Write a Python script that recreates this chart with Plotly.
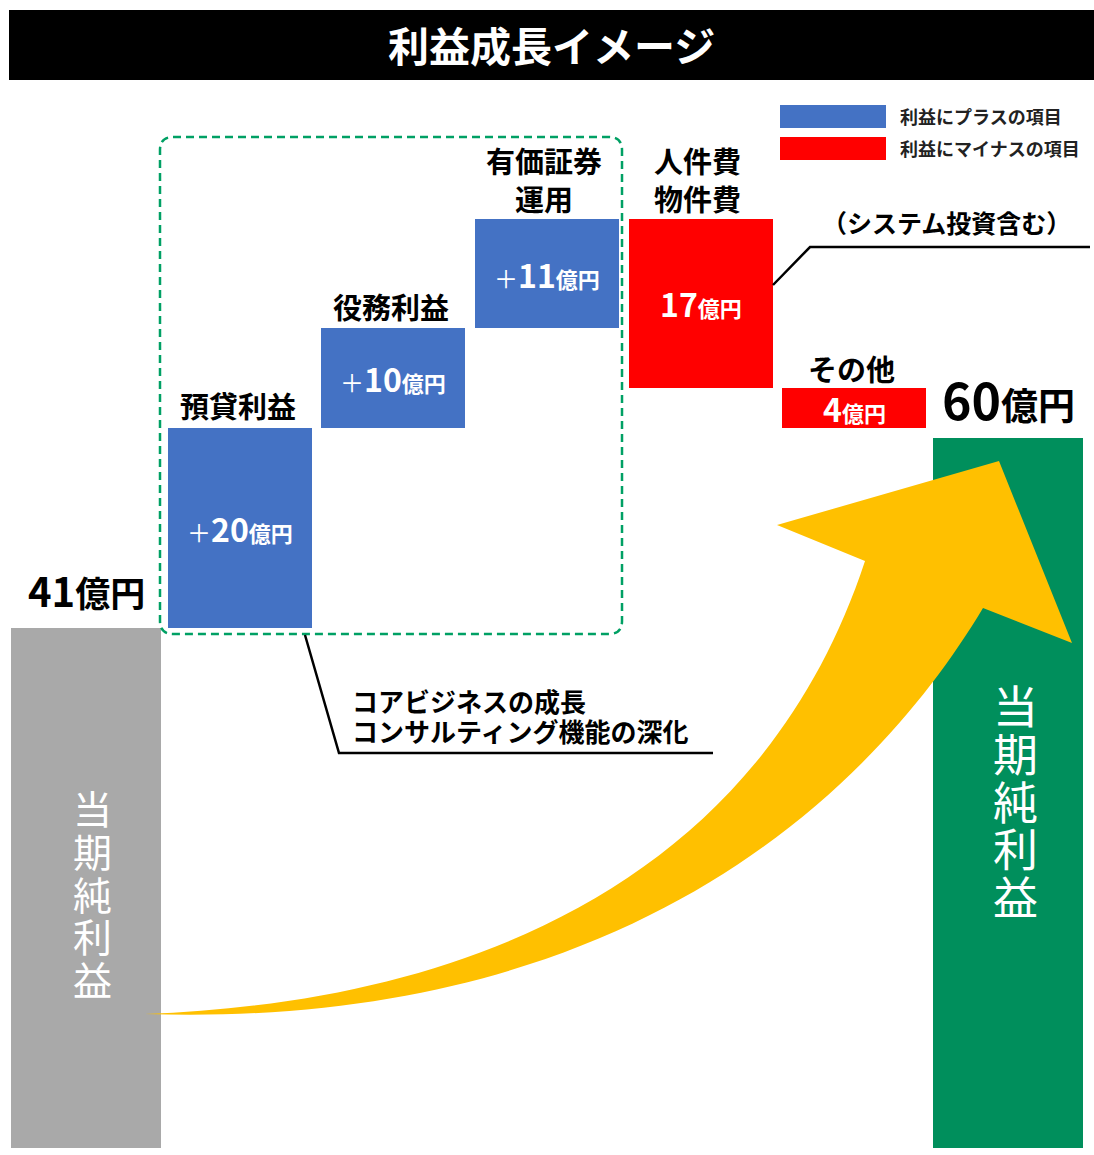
import plotly.graph_objects as go

W, H = 1094, 1155
PLOT_BOTTOM = 1148  # plot area spans 0..1148 px vertically

# ---------------- data ----------------
title_text = "利益成長イメージ"
start_value = 41
item_names = ["預貸利益", "役務利益", "有価証券<br>運用", "人件費<br>物件費", "その他"]
item_values = [20, 10, 11, -17, -4]
end_value = 60
unit = "億円"
total_name = "当期純利益"
legend_labels = ["利益にプラスの項目", "利益にマイナスの項目"]
core_note_lines = ["コアビジネスの成長", "コンサルティング機能の深化"]
cost_note = "（システム投資含む）"

# ---------------- style ----------------
FONT = "Noto Sans CJK JP, Noto Sans, sans-serif"
C_START = "#A9A9A9"
C_POS = "#4472C4"
C_NEG = "#FF0000"
C_END = "#008F5C"
C_ARROW = "#FFC000"
C_DASH = "#00A064"

# axis mapping (schematic, broken axis)
X_STEP = 153.67
X0_PX = 86
Y_ZERO_PX = 1037
Y_PX_PER = 9.98
x_range = [-X0_PX / X_STEP, (W - X0_PX) / X_STEP]
y_range = [(Y_ZERO_PX - PLOT_BOTTOM) / Y_PX_PER, Y_ZERO_PX / Y_PX_PER]
Y_MIN = y_range[0]


def px(x):
    return x / W


def py(y):
    return (PLOT_BOTTOM - y) / PLOT_BOTTOM


# ---------------- bars ----------------
n = len(item_values) + 2
xs = list(range(n))
bases, heights, colors, tops, mids = [], [], [], [], []
bases.append(Y_MIN)
heights.append(start_value - Y_MIN)
colors.append(C_START)
tops.append(start_value)
mids.append(None)
cum = start_value
for v in item_values:
    new = cum + v
    lo, hi = min(cum, new), max(cum, new)
    bases.append(lo)
    heights.append(hi - lo)
    colors.append(C_POS if v > 0 else C_NEG)
    tops.append(hi)
    mids.append((lo + hi) / 2)
    cum = new
bases.append(Y_MIN)
heights.append(end_value - Y_MIN)
colors.append(C_END)
tops.append(end_value)
mids.append(None)

widths = [0.976] + [0.937] * len(item_values) + [0.976]

fig = go.Figure()
fig.add_trace(go.Bar(
    x=xs, y=heights, base=bases, width=widths,
    marker=dict(color=colors, line=dict(width=0)),
    hoverinfo="skip", showlegend=False,
))

annotations = []

# labels above bars
above_gap = [38, 23, 22, 40, 40, 20, 40]
above_text = [
    f"<b><span style='font-size:40px'>{start_value}</span><span style='font-size:35px'>{unit}</span></b>"
] + [f"<b>{t}</b>" for t in item_names] + [
    f"<b><span style='font-size:50px'>{end_value}</span><span style='font-size:37px'>{unit}</span></b>"
]
above_dx = [0, -2, -2, -3, -3, -3, 0]
for i in range(n):
    annotations.append(dict(
        x=i, y=tops[i], xref="x", yref="y", text=above_text[i],
        showarrow=False, xanchor="center", yanchor="middle",
        yshift=above_gap[i], xshift=above_dx[i],
        font=dict(family=FONT, size=29, color="black"),
    ))

# values inside bars
for k, v in enumerate(item_values):
    i = k + 1
    if v > 0:
        t = (f"<span style='font-size:24px'>＋</span><b><span style='font-size:32px'>{v}</span>"
             f"<span style='font-size:22px'>{unit}</span></b>")
    else:
        t = (f"<b><span style='font-size:32px'>{abs(v)}</span>"
             f"<span style='font-size:22px'>{unit}</span></b>")
    annotations.append(dict(
        x=i, y=mids[i], xref="x", yref="y", text=t, showarrow=False,
        xanchor="center", yanchor="middle",
        font=dict(family=FONT, size=28, color="white"),
    ))

# vertical titles in start / end bars (one text each, line pitch set by base font size)
def vertical(text, size):
    return "<br>".join(f"<span style='font-size:{size}px'>{ch}</span>" for ch in text)


annotations.append(dict(
    x=px(92), y=py(892), xref="paper", yref="paper", text=vertical(total_name, 39),
    showarrow=False, xanchor="center", yanchor="middle",
    font=dict(family=FONT, size=42.75 / 1.3, color="white"),
))
annotations.append(dict(
    x=px(1015), y=py(800), xref="paper", yref="paper", text=vertical(total_name, 45),
    showarrow=False, xanchor="center", yanchor="middle",
    font=dict(family=FONT, size=47.75 / 1.3, color="white"),
))

# title
annotations.append(dict(
    x=px(551), y=py(44), xref="paper", yref="paper", text=f"<b>{title_text}</b>",
    showarrow=False, xanchor="center", yanchor="middle",
    font=dict(family=FONT, size=41, color="white"),
))

# legend texts
for k, lab in enumerate(legend_labels):
    annotations.append(dict(
        x=px(898), y=py(116 + k * 32), xref="paper", yref="paper", text=f"<b>{lab}</b>",
        showarrow=False, xanchor="left", yanchor="middle",
        font=dict(family=FONT, size=18, color="#222222"),
    ))

# notes
for k, line in enumerate(core_note_lines):
    annotations.append(dict(
        x=px(350), y=py(700 + k * 30), xref="paper", yref="paper", text=f"<b>{line}</b>",
        showarrow=False, xanchor="left", yanchor="middle",
        font=dict(family=FONT, size=26, color="black"),
    ))
annotations.append(dict(
    x=px(946), y=py(222), xref="paper", yref="paper", text=f"<b>{cost_note}</b>",
    showarrow=False, xanchor="center", yanchor="middle",
    font=dict(family=FONT, size=25, color="black"),
))

# ---------------- shapes ----------------
shapes = []
# title bar
shapes.append(dict(type="rect", xref="paper", yref="paper",
                   x0=px(9), x1=px(1094), y0=py(80), y1=py(10),
                   fillcolor="black", line=dict(width=0), layer="above"))
# legend swatches
for k, c in enumerate([C_POS, C_NEG]):
    shapes.append(dict(type="rect", xref="paper", yref="paper",
                       x0=px(780), x1=px(886), y0=py(128 + k * 32), y1=py(105 + k * 32),
                       fillcolor=c, line=dict(width=0), layer="above"))


def P(x, y):
    return f"{px(x):.5f},{py(y):.5f}"


# dashed rounded rectangle around core business bars
L_, T_, R_, B_, r = 160, 137, 622, 634, 13
dpath = (f"M {P(L_ + r, T_)} L {P(R_ - r, T_)} Q {P(R_, T_)} {P(R_, T_ + r)} "
         f"L {P(R_, B_ - r)} Q {P(R_, B_)} {P(R_ - r, B_)} "
         f"L {P(L_ + r, B_)} Q {P(L_, B_)} {P(L_, B_ - r)} "
         f"L {P(L_, T_ + r)} Q {P(L_, T_)} {P(L_ + r, T_)} Z")
shapes.append(dict(type="path", xref="paper", yref="paper", path=dpath,
                   line=dict(color=C_DASH, width=2.5, dash="8px,5px"),
                   fillcolor="rgba(0,0,0,0)", layer="above"))

# callout lines
shapes.append(dict(type="path", xref="paper", yref="paper",
                   path=f"M {P(305, 635)} L {P(339, 753)} L {P(713, 753)}",
                   line=dict(color="black", width=2.5), layer="above"))
shapes.append(dict(type="path", xref="paper", yref="paper",
                   path=f"M {P(773, 285)} L {P(810, 247)} L {P(1090, 247)}",
                   line=dict(color="black", width=2.5), layer="above"))

# growth arrow (two smooth edges joined by an arrow head)
tail = (145, 1014)
notch_l, wing_l, tip, wing_r, notch_r = (865, 561), (777, 525), (999, 461), (1072, 643), (983, 608)
apath = (f"M {P(*tail)} C {P(470, 1002)} {P(760, 880)} {P(*notch_l)} "
         f"L {P(*wing_l)} L {P(*tip)} L {P(*wing_r)} L {P(*notch_r)} "
         f"C {P(880, 780)} {P(640, 1030)} {P(*tail)} Z")
shapes.append(dict(type="path", xref="paper", yref="paper", path=apath,
                   fillcolor=C_ARROW, line=dict(width=0), layer="above"))

fig.update_layout(
    width=W, height=H,
    margin=dict(l=0, r=0, t=0, b=H - PLOT_BOTTOM, pad=0),
    paper_bgcolor="white", plot_bgcolor="white",
    xaxis=dict(range=x_range, visible=False, fixedrange=True),
    yaxis=dict(range=y_range, visible=False, fixedrange=True),
    bargap=0,
    shapes=shapes,
    annotations=annotations,
    font=dict(family=FONT),
)

fig.write_html("out.html")
